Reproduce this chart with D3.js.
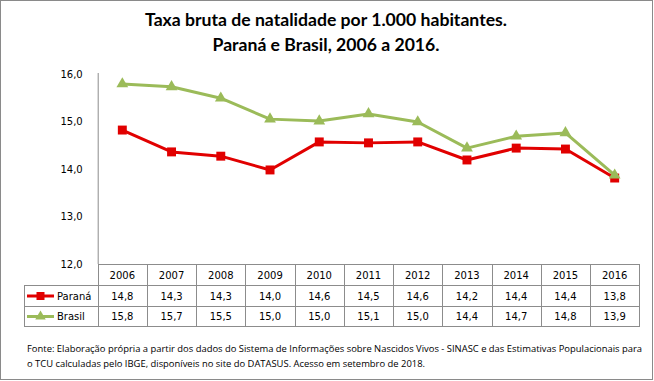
<!DOCTYPE html>
<html><head><meta charset="utf-8">
<script src="https://cdn.jsdelivr.net/npm/d3@7"></script>
<style>body{margin:0;background:#fff}svg{display:block}</style>
</head><body>
<svg id="c" width="654" height="381"></svg>
<script>
const years = ["2006","2007","2008","2009","2010","2011","2012","2013","2014","2015","2016"];
const parana = [14.82,14.36,14.27,13.98,14.57,14.55,14.57,14.19,14.44,14.42,13.81];
const brasil = [15.79,15.73,15.49,15.05,15.01,15.16,14.99,14.44,14.69,14.76,13.87];
const paranaLabels = ["14,8","14,3","14,3","14,0","14,6","14,5","14,6","14,2","14,4","14,4","13,8"];
const brasilLabels = ["15,8","15,7","15,5","15,0","15,0","15,1","15,0","14,4","14,7","14,8","13,9"];
const yTicks = [12,13,14,15,16];
const titleLines = ["Taxa bruta de natalidade por 1.000 habitantes.","Paraná e Brasil, 2006 a 2016."];
const footLines = ["Fonte: Elaboração própria a partir dos dados do  Sistema de Informações sobre Nascidos Vivos - SINASC e das  Estimativas Populacionais para",
                   "o TCU calculadas pelo IBGE, disponíveis no site do DATASUS. Acesso em  setembro de 2018."];

const svg = d3.select("#c");
const W = 654, H = 381;
const red = "#E10000", green = "#9BBB59", grid = "#8c8c8c";
const font = "DejaVu Sans";

svg.append("rect").attr("x",0.5).attr("y",0.5).attr("width",652).attr("height",379)
  .attr("fill","#fff").attr("stroke","#8a8a8a");

// title
const tg = svg.append("g").attr("font-family","Lato, 'Open Sans', sans-serif").attr("font-weight","bold")
  .attr("text-anchor","middle").attr("fill","#000");
titleLines.forEach((t,i)=>{
  const el = tg.append("text").attr("x",326).attr("y",26+i*25).attr("font-size",16).text(t);
});
// fit first line to ~362px
{
  const first = tg.select("text").node();
  const w = first.getComputedTextLength();
  const fs = 16*362/w;
  tg.selectAll("text").attr("font-size",fs.toFixed(2));
}

const x0 = 97.7, x1 = 639.3, yTop = 74, yBot = 264;
const x = d3.scaleBand().domain(years).range([x0,x1]);
const y = d3.scaleLinear().domain([12,16]).range([yBot,yTop]);

// y axis
const yAxis = d3.axisLeft(y).tickValues(yTicks).tickSize(0).tickPadding(15)
  .tickFormat(d=>d3.format(".1f")(d).replace(".",","));
const ya = svg.append("g").attr("transform",`translate(${x0},0)`).call(yAxis);
ya.select(".domain").attr("stroke",grid).attr("d",`M0.5,${yTop-1}V${yBot}`);
ya.selectAll("text").attr("font-family",font).attr("font-size",10).attr("fill","#000");

// table
const rowTop = [264,285,306], rowBot = 326, legLeft = 24;
const tl = svg.append("g").attr("stroke",grid).attr("stroke-width",1).attr("shape-rendering","crispEdges");
// horizontal lines
tl.append("line").attr("x1",x0).attr("x2",x1).attr("y1",rowTop[0]+0.5).attr("y2",rowTop[0]+0.5);
[rowTop[1],rowTop[2],rowBot].forEach(yy=>tl.append("line").attr("x1",legLeft).attr("x2",x1).attr("y1",yy+0.5).attr("y2",yy+0.5));
// vertical lines
const cols = years.map(d=>x(d)).concat([x1]);
cols.forEach(cx=>tl.append("line").attr("x1",Math.round(cx)+0.5).attr("x2",Math.round(cx)+0.5).attr("y1",rowTop[0]).attr("y2",rowBot+1));
tl.append("line").attr("x1",legLeft+0.5).attr("x2",legLeft+0.5).attr("y1",rowTop[1]).attr("y2",rowBot+1);

const tt = svg.append("g").attr("font-family",font).attr("font-size",10).attr("fill","#000").attr("text-anchor","middle");
const rowMid = [rowTop[0]+11, rowTop[1]+11, rowTop[2]+10.5];
years.forEach((yr,i)=>{
  const cx = x(yr)+x.bandwidth()/2;
  tt.append("text").attr("x",cx).attr("y",rowMid[0]).attr("dy","0.35em").text(yr);
  tt.append("text").attr("x",cx).attr("y",rowMid[1]).attr("dy","0.35em").text(paranaLabels[i]);
  tt.append("text").attr("x",cx).attr("y",rowMid[2]).attr("dy","0.35em").text(brasilLabels[i]);
});

// legend keys
const sq = d3.symbol().type(d3.symbolSquare).size(64);
const tri = d3.symbol().type(d3.symbolTriangle).size(48);
function key(yy, color, sym, label){
  const g = svg.append("g");
  g.append("line").attr("x1",27).attr("x2",54).attr("y1",yy).attr("y2",yy).attr("stroke",color).attr("stroke-width",3);
  g.append("path").attr("d",sym()).attr("transform",`translate(40.5,${yy})`).attr("fill",color);
  g.append("text").attr("x",57).attr("y",yy).attr("dy","0.35em").attr("font-family",font).attr("font-size",10).text(label);
}
key(rowMid[1], red, sq, "Paraná");
key(rowMid[2], green, tri, "Brasil");

// series
const cx = d=>x(d)+x.bandwidth()/2;
const line = d3.line().x((d,i)=>cx(years[i])).y(d=>y(d));
function series(vals, color, sym, dy){
  const g = svg.append("g");
  g.append("path").attr("d",line(vals)).attr("fill","none").attr("stroke",color).attr("stroke-width",3).attr("stroke-linejoin","round");
  g.selectAll("path.m").data(vals).join("path").attr("class","m")
    .attr("d",sym()).attr("fill",color)
    .attr("transform",(d,i)=>`translate(${cx(years[i])},${y(d)+dy})`);
}
series(parana, red, d3.symbol().type(d3.symbolSquare).size(80), 0);
series(brasil, green, d3.symbol().type(d3.symbolTriangle).size(60), 0);

// footnote
const fg = svg.append("g").attr("font-family","'Liberation Sans Narrow','Open Sans',sans-serif").attr("font-size",9.5).attr("fill","#000");
const f1 = fg.append("text").attr("x",27).attr("y",352).text(footLines[0]);
const f2 = fg.append("text").attr("x",27).attr("y",367).text(footLines[1]);
{
  const w1 = f1.node().getComputedTextLength();
  const k = 615/w1;
  f1.attr("textLength",615).attr("lengthAdjust","spacingAndGlyphs");
  const w2 = f2.node().getComputedTextLength();
  f2.attr("textLength",(w2*k).toFixed(1)).attr("lengthAdjust","spacingAndGlyphs");
}
</script>
</body></html>
